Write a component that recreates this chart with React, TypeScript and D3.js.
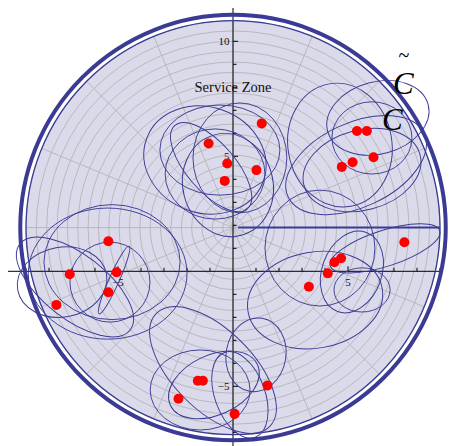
import React from "react";
import * as d3 from "d3";

const W = 449;
const H = 446;

// Service zone (data units)
const zoneCenter = [0, 1.9];
const zoneRadius = 9;
const outerRadius = 9.25;
const ringCount = 20;
const spokeCount = 16;

// Customer locations
const pointsX = [1.25, -1.06, -0.25, 1.02, -0.36, 5.39, 5.82, 6.11, 5.2, 4.73, -5.42, -7.1, -5.06, -5.42, -7.68, 7.45, 4.7, 4.41, 4.12, 3.3, -1.53, -1.31, 1.5, -2.37, 0.07];
const pointsY = [6.43, 5.56, 4.69, 4.4, 3.93, 6.1, 6.1, 4.96, 4.74, 4.54, 1.31, -0.13, -0.04, -0.91, -1.46, 1.26, 0.57, 0.39, -0.09, -0.67, -4.76, -4.76, -4.96, -5.54, -6.2];

// Coverage ellipses per cluster: [cx, cy, rx, ry, angle in degrees]
const ellipsesTop = [
  [-1.22, 4.84, 2.7, 2.3, -20],
  [-0.57, 5.27, 2.61, 1.96, 0],
  [-0.78, 4.23, 2.17, 1.96, 0],
  [-0.95, 4.53, 2.4, 1.05, -49],
  [-0.22, 3.75, 1.96, 2.26, 15],
  [0.3, 4.93, 2.04, 2.39, 0],
];
const ellipsesTopRight = [
  [4.65, 5.49, 2.26, 2.7, 10],
  [6.04, 5.8, 1.74, 1.57, 0],
  [5.61, 4.4, 2.61, 1.74, 15],
  [6.3, 6.67, 2.26, 1.57, 15],
  [5.35, 4.62, 3.26, 1.83, 25],
];
const ellipsesLeft = [
  [-5.45, -0.1, 3.45, 2.85, 0],
  [-5.26, 0.4, 2.96, 2.5, 0],
  [-5.35, -0.47, 1.74, 1.74, 0],
  [-5.17, -0.38, 1.61, 0.22, 66],
  [-6.87, -0.68, 3.04, 1.39, -38],
  [-7.43, -0.47, 1.96, 1.52, 10],
];
const ellipsesRight = [
  [3.78, 1.01, 2.39, 2.52, 0],
  [3.57, -1.25, 2.96, 2.09, 10],
  [6.61, 1.0, 2.5, 0.78, 18],
  [5.17, -0.03, 1.3, 1.83, -20],
  [5.61, -0.81, 1.22, 0.96, 0],
];
const ellipsesBottom = [
  [-0.87, -4.29, 3.48, 1.74, -45],
  [1.0, -3.63, 1.3, 1.61, -10],
  [-0.83, -4.94, 2.09, 1.3, 25],
  [-1.43, -5.16, 2.17, 1.74, 0],
  [0.3, -5.37, 1.09, 1.96, 20],
];

const xTicks = [-9, -8, -7, -6, -5, -4, -3, -2, -1, 1, 2, 3, 4, 5, 6, 7, 8, 9];
const yTicks = [-7, -6, -5, -4, -3, -2, -1, 1, 2, 3, 4, 5, 6, 7, 8, 9, 10];
const xLabels = [-5, 5];
const yLabels = [-5, 5, 10];

const BLUE = "#3b3b96";
const GRID = "#b4b4b8";
const FILL = "#dadaeb";
const SERIF = "'Liberation Serif', 'DejaVu Serif', serif";

const fmt = (v: number) => (v < 0 ? "\u2212" + Math.abs(v) : String(v));

export default function App() {
  const x = d3.scaleLinear().domain([-10, 10]).range([233 - 230, 233 + 230]);
  const y = d3.scaleLinear().domain([-10, 10]).range([271.3 + 230, 271.3 - 230]);
  const k = x(1) - x(0);

  const cx0 = x(zoneCenter[0]);
  const cy0 = y(zoneCenter[1]);

  const rings = d3.range(1, ringCount + 1).map((i) => (zoneRadius * i) / ringCount);
  const spokes = d3.range(spokeCount).map((i) => (i * 2 * Math.PI) / spokeCount);

  const allEllipses = [
    ...ellipsesTop,
    ...ellipsesTopRight,
    ...ellipsesLeft,
    ...ellipsesRight,
    ...ellipsesBottom,
  ];

  const pts = pointsX.map((px, i) => [px, pointsY[i]]);

  return (
    <svg
      width={W}
      height={H}
      style={{ position: "absolute", left: 0, top: 0, background: "#fff" }}
    >
      {/* zone disk */}
      <circle cx={cx0} cy={cy0} r={zoneRadius * k} fill={FILL} />

      {/* polar grid */}
      <g stroke={GRID} strokeWidth={0.9} fill="none">
        {rings.map((r, i) => (
          <circle key={i} cx={cx0} cy={cy0} r={r * k} />
        ))}
        {spokes.map((a, i) => (
          <line
            key={i}
            x1={cx0}
            y1={cy0}
            x2={x(zoneCenter[0] + zoneRadius * Math.cos(a))}
            y2={y(zoneCenter[1] + zoneRadius * Math.sin(a))}
          />
        ))}
      </g>

      {/* axes */}
      <g stroke="#000" strokeWidth={1}>
        <line x1={8} x2={441} y1={y(0)} y2={y(0)} />
        <line x1={x(0)} x2={x(0)} y1={8} y2={446} />
        {xTicks.map((t) => (
          <line key={t} x1={x(t)} x2={x(t)} y1={y(0)} y2={y(0) - (t % 5 === 0 ? 5 : 3.5)} />
        ))}
        {yTicks.map((t) => (
          <line key={t} x1={x(0)} x2={x(0) + (t % 5 === 0 ? 5 : 3.5)} y1={y(t)} y2={y(t)} />
        ))}
      </g>
      <g fontFamily={SERIF} fontSize={11} fill="#111">
        {xLabels.map((t) => (
          <text key={t} x={x(t)} y={y(0) + 14.5} textAnchor="middle">
            {fmt(t)}
          </text>
        ))}
        {yLabels.map((t) => (
          <text key={t} x={x(0) - 3.5} y={y(t) + 4} textAnchor="end">
            {fmt(t)}
          </text>
        ))}
      </g>

      {/* coverage ellipses */}
      <g stroke={BLUE} strokeWidth={0.95} fill="none">
        {allEllipses.map(([ex, ey, rx, ry, ang], i) => (
          <ellipse
            key={i}
            cx={x(ex)}
            cy={y(ey)}
            rx={rx * k}
            ry={ry * k}
            transform={`rotate(${-ang}, ${x(ex)}, ${y(ey)})`}
          />
        ))}
      </g>

      {/* reference ray and boundaries */}
      <line
        x1={x(zoneCenter[0] + 0.22)}
        x2={x(zoneCenter[0] + zoneRadius)}
        y1={cy0}
        y2={cy0}
        stroke={BLUE}
        strokeWidth={2}
      />
      <circle cx={cx0} cy={cy0} r={zoneRadius * k} fill="none" stroke={BLUE} strokeWidth={1.3} />
      <circle cx={cx0} cy={cy0} r={outerRadius * k} fill="none" stroke={BLUE} strokeWidth={4} />

      {/* customer points */}
      <g fill="#f00">
        {pts.map(([px, py], i) => (
          <circle key={i} cx={x(px)} cy={y(py)} r={5} />
        ))}
      </g>

      {/* labels */}
      <text x={x(0)} y={92} textAnchor="middle" fontFamily={SERIF} fontSize={14.5} fill="#111">
        Service Zone
      </text>
      <text x={404} y={62} textAnchor="middle" fontFamily={SERIF} fontSize={20} fill="#000">
        ~
      </text>
      <text x={393} y={94} fontFamily={SERIF} fontSize={31} fontStyle="italic" fill="#000">
        C
      </text>
      <text x={382} y={130} fontFamily={SERIF} fontSize={31} fontStyle="italic" fill="#000">
        C
      </text>
    </svg>
  );
}
